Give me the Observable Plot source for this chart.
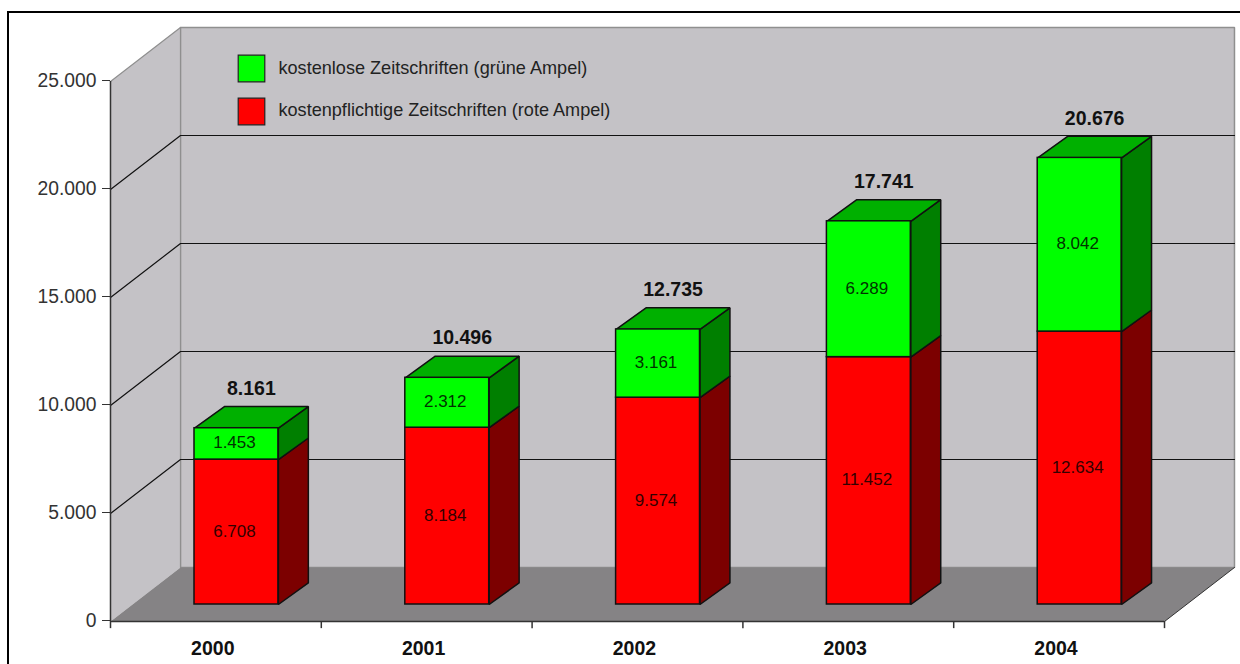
<!DOCTYPE html>
<html><head><meta charset="utf-8">
<script src="https://cdn.jsdelivr.net/npm/d3@7"></script>
<script src="https://cdn.jsdelivr.net/npm/@observablehq/plot@0.6"></script>
<style>
html,body{margin:0;padding:0;background:#fff;overflow:hidden}
#frame{position:absolute;left:7px;top:11px;right:0;bottom:0;border-left:2px solid #000;border-top:2px solid #000;box-sizing:border-box}
#chart{position:absolute;left:0;top:0}
#chart svg{background:transparent;display:block}
</style></head><body>
<div id="frame"></div><div id="chart"></div>
<script>
const years = ["2000","2001","2002","2003","2004"];
const paid = [6708, 8184, 9574, 11452, 12634];
const free = [1453, 2312, 3161, 6289, 8042];
const totals = [8161, 10496, 12735, 17741, 20676];
const yTicks = [0, 5000, 10000, 15000, 20000, 25000];
const gridValues = [5000, 10000, 15000, 20000];
const legendLabels = ["kostenlose Zeitschriften (grüne Ampel)", "kostenpflichtige Zeitschriften (rote Ampel)"];

const fmt = d3.formatLocale({decimal:",",thousands:".",grouping:[3],currency:["","€"]}).format(",d");
const FONT = "Liberation Sans, Arial, sans-serif";

// depth of the box and bars, in scale units
const roomDx = 0.332, roomDy = 2500;
const barOffset = 0.3985, barW = 0.398, barBase = 787, barDx = 0.142, barDy = 1000;
const n = years.length;

const poly = (id, pts) => pts.map(([x,y]) => ({id, x, y}));
const bars = years.map((year,i) => {
  const x1 = i + barOffset, x2 = x1 + barW;
  return {year, i, x1, x2, y0: barBase, y1: barBase + paid[i], y2: barBase + paid[i] + free[i]};
});
const sideRed = bars.flatMap(b => poly("r"+b.i, [[b.x2,b.y0],[b.x2+barDx,b.y0+barDy],[b.x2+barDx,b.y1+barDy],[b.x2,b.y1]]));
const sideGreen = bars.flatMap(b => poly("g"+b.i, [[b.x2,b.y1],[b.x2+barDx,b.y1+barDy],[b.x2+barDx,b.y2+barDy],[b.x2,b.y2]]));
const topGreen = bars.flatMap(b => poly("t"+b.i, [[b.x1,b.y2],[b.x1+barDx,b.y2+barDy],[b.x2+barDx,b.y2+barDy],[b.x2,b.y2]]));
const face = (pts, opts) => Plot.line(pts, {x:"x", y:"y", z:"id", curve:"linear-closed", strokeLinejoin:"miter", ...opts});

const grid = gridValues.flatMap(v => poly(v, [[0,v],[roomDx,v+roomDy],[n+roomDx,v+roomDy]]));
const yMax = yTicks[yTicks.length-1];

const chart = Plot.plot({
  width: 1240, height: 664,
  marginLeft: 110, marginRight: 76, marginTop: 81, marginBottom: 43,
  x: {type: "linear", domain: [0, n], axis: null},
  y: {type: "linear", domain: [0, yMax], axis: null},
  style: {fontFamily: FONT, background: "transparent", overflow: "visible"},
  marks: [
    // room
    face(poly("back", [[roomDx,roomDy],[n+roomDx,roomDy],[n+roomDx,yMax+roomDy],[roomDx,yMax+roomDy]]), {fill:"#c4c2c6", stroke:"#8f8f8f", strokeWidth:1.5}),
    face(poly("left", [[0,0],[roomDx,roomDy],[roomDx,yMax+roomDy],[0,yMax]]), {fill:"#c4c2c6", stroke:"none"}),
    Plot.line(poly("e", [[0,yMax],[roomDx,yMax+roomDy],[roomDx,roomDy]]), {x:"x", y:"y", stroke:"#8f8f8f", strokeWidth:1.2}),
    face(poly("floor", [[0,0],[roomDx,roomDy],[n+roomDx,roomDy],[n,0]]), {fill:"#858385", stroke:"none"}),
    Plot.line(poly("fe", [[n,0],[n+roomDx,roomDy]]), {x:"x", y:"y", stroke:"#333", strokeWidth:1}),
    Plot.line(grid, {x:"x", y:"y", z:"id", stroke:"#111", strokeWidth:1.2}),
    // bars
    face(sideRed, {fill:"#7c0000", stroke:"#111"}),
    face(sideGreen, {fill:"#007f00", stroke:"#111"}),
    face(topGreen, {fill:"#00b000", stroke:"#111"}),
    Plot.rect(bars, {x1:"x1", x2:"x2", y1:"y0", y2:"y1", fill:"#ff0000", stroke:"#111", strokeWidth:1.5}),
    Plot.rect(bars, {x1:"x1", x2:"x2", y1:"y1", y2:"y2", fill:"#00ff00", stroke:"#111", strokeWidth:1.5}),
    // value labels
    Plot.text(bars, {x:d=>(d.x1+d.x2)/2, y:d=>(d.y0+d.y1)/2, dx:-2, dy:-1, text:d=>fmt(paid[d.i]), fontSize:17, fill:"#300"}),
    Plot.text(bars, {x:d=>(d.x1+d.x2)/2, y:d=>(d.y1+d.y2)/2, dx:-2, dy:-1, text:d=>fmt(free[d.i]), fontSize:17, fill:"#030"}),
    Plot.text(bars, {x:d=>(d.x1+d.x2+barDx)/2, y:d=>d.y2+barDy, dy:-18, text:d=>fmt(totals[d.i]), fontSize:19.5, fontWeight:"bold", fill:"#111"}),
    // axes
    Plot.axisY({ticks:yTicks, tickFormat:fmt, tickSize:8, tickPadding:6, fontSize:19.3, color:"#333", anchor:"left", dy:-1}),
    Plot.ruleX([0], {y1:0, y2:yMax, stroke:"#333", strokeWidth:1.5}),
    Plot.ruleY([0], {x1:0, x2:n, stroke:"#333", strokeWidth:1.5}),
    Plot.ruleX(d3.range(n+1), {x:d=>d, y1:0, y2:-330, stroke:"#333", strokeWidth:1.5}),
    Plot.text(years, {x:(d,i)=>i+0.49, y:()=>0, dy:27, dx:-1, text:d=>d, fontSize:19.5, fontWeight:"bold", fill:"#111"}),
    // legend
    Plot.dot([0], {frameAnchor:"top-left", dx:141, dy:-13, symbol:"square", r:15, fill:"#00ff00", stroke:"#222", strokeWidth:1.2}),
    Plot.dot([0], {frameAnchor:"top-left", dx:141, dy:30, symbol:"square", r:15, fill:"#ff0000", stroke:"#222", strokeWidth:1.2}),
    Plot.text([legendLabels[0]], {frameAnchor:"top-left", dx:168, dy:-13, textAnchor:"start", lineAnchor:"middle", text:d=>d, fontSize:18.1, fill:"#222"}),
    Plot.text([legendLabels[1]], {frameAnchor:"top-left", dx:168, dy:29, textAnchor:"start", lineAnchor:"middle", text:d=>d, fontSize:18.1, fill:"#222"})
  ]
});
document.getElementById("chart").append(chart);
</script></body></html>
